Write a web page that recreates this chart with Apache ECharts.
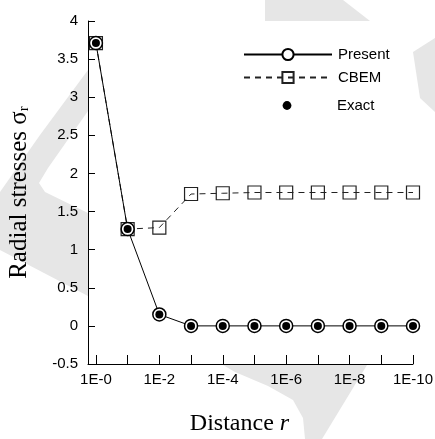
<!DOCTYPE html>
<html>
<head>
<meta charset="utf-8">
<script src="https://cdn.jsdelivr.net/npm/echarts@6/dist/echarts.min.js"></script>
<style>
html,body{margin:0;padding:0;background:#fff;}
#chart{width:435px;height:439px;}
</style>
</head>
<body>
<div id="chart"></div>
<script>
// distance r = 1E-0 ... 1E-10 (index = exponent)
var xIndex = [0, 1, 2, 3, 4, 5, 6, 7, 8, 9, 10];
var xLabels = ["1E-0", "1E-1", "1E-2", "1E-3", "1E-4", "1E-5", "1E-6", "1E-7", "1E-8", "1E-9", "1E-10"];
var shownLabels = [0, 2, 4, 6, 8, 10];
var present = [3.71, 1.27, 0.15, 0, 0, 0, 0, 0, 0, 0, 0];
var cbem = [3.71, 1.27, 1.29, 1.73, 1.74, 1.75, 1.75, 1.75, 1.75, 1.75, 1.75];
var exact = [3.71, 1.27, 0.15, 0, 0, 0, 0, 0, 0, 0, 0];

function pairs(vals){
	var out = [];
	for(var i=0;i<vals.length;i++){
		out.push([xIndex[i], vals[i]]);
	}
	return out;
}

// light grey watermark behind the margins
var wmColor = '#e6e6e6';
function wm(points){
	return {type: 'polygon', z: -10, silent: true, shape: {points: points}, style: {fill: wmColor}};
}

var chart = echarts.init(document.getElementById("chart"));
var legendText = {fontFamily: 'Liberation Sans', fontSize: 15, lineHeight: 14, color: '#000', padding: [0, 0, 0, 1]};
var option = {
	backgroundColor: '#fff',
	animation: false,
	graphic: {
		z: -10,
		elements: [
			wm([[88,70],[40,135],[0,192],[0,250],[88,296],[88,213],[45,192],[39,183],[48,168],[88,111]]),
			wm([[265,0],[343,0],[370,21],[265,21]]),
			wm([[413,52],[435,38],[435,112],[420,98]]),
			wm([[223,365],[367,365],[322,439],[305,439],[303,418],[293,400],[268,386],[235,372]])
		]
	},
	grid: {
		left: 88,
		right: 22,
		top: 21,
		bottom: 75,
		containLabel: false,
		outerBoundsMode: 'none'
	},
	legend: [{
		orient: 'vertical',
		left: 238,
		top: 42,
		itemWidth: 88,
		itemHeight: 14,
		itemGap: 8,
		textStyle: legendText,
		data: ['Present', 'CBEM']
	}, {
		orient: 'vertical',
		left: 238,
		top: 93,
		itemWidth: 88,
		itemHeight: 11,
		textStyle: legendText,
		data: ['Exact']
	}],
	xAxis: {
		type: 'value',
		min: -0.25,
		max: 10,
		name: '{t|Distance }{i|r}',
		nameLocation: 'middle',
		nameGap: 48,
		nameTextStyle: {
			padding: [0, 22, 0, 0],
			rich: {
				t: {fontFamily: 'Liberation Serif', fontSize: 24, color: '#000'},
				i: {fontFamily: 'Liberation Serif', fontSize: 24, fontStyle: 'italic', color: '#000'}
			}
		},
		axisLine: {onZero: false, lineStyle: {color: '#000', width: 1}},
		axisTick: {inside: true, length: 9, customValues: xIndex, lineStyle: {color: '#000'}},
		axisLabel: {
			customValues: shownLabels,
			formatter: function(v){ return xLabels[Math.round(v)]; },
			fontFamily: 'Liberation Sans', fontSize: 15, color: '#000', margin: 8
		},
		splitLine: {show: false}
	},
	yAxis: {
		type: 'value',
		min: -0.5,
		max: 4,
		interval: 0.5,
		name: '{t|Radial stresses σ}{s|r}',
		nameLocation: 'middle',
		nameGap: 56,
		nameTextStyle: {
			rich: {
				t: {fontFamily: 'Liberation Serif', fontSize: 25, color: '#000'},
				s: {fontFamily: 'Liberation Serif', fontSize: 15, color: '#000', verticalAlign: 'bottom', padding: [10, 0, 0, 0]}
			}
		},
		axisLine: {show: true, onZero: false, lineStyle: {color: '#000', width: 1}},
		axisTick: {show: true, inside: true, length: 7, lineStyle: {color: '#000'}},
		axisLabel: {fontFamily: 'Liberation Sans', fontSize: 15, color: '#000', margin: 10},
		splitLine: {show: false}
	},
	series: [
		{
			name: 'CBEM',
			type: 'line',
			data: pairs(cbem),
			symbol: 'rect',
			symbolSize: 13,
			itemStyle: {color: 'rgba(255,255,255,0)', borderColor: '#222', borderWidth: 1.2},
			lineStyle: {color: '#222', width: 1, type: [6, 5]},
			z: 2
		},
		{
			name: 'Present',
			type: 'line',
			data: pairs(present),
			symbol: 'circle',
			symbolSize: 13,
			itemStyle: {color: '#fff', borderColor: '#000', borderWidth: 1.5},
			lineStyle: {color: '#000', width: 1},
			z: 3
		},
		{
			name: 'Exact',
			type: 'line',
			data: pairs(exact),
			symbol: 'circle',
			symbolSize: 8,
			itemStyle: {color: '#000'},
			lineStyle: {width: 0, opacity: 0},
			z: 4
		}
	]
};
chart.setOption(option);
</script>
</body>
</html>
